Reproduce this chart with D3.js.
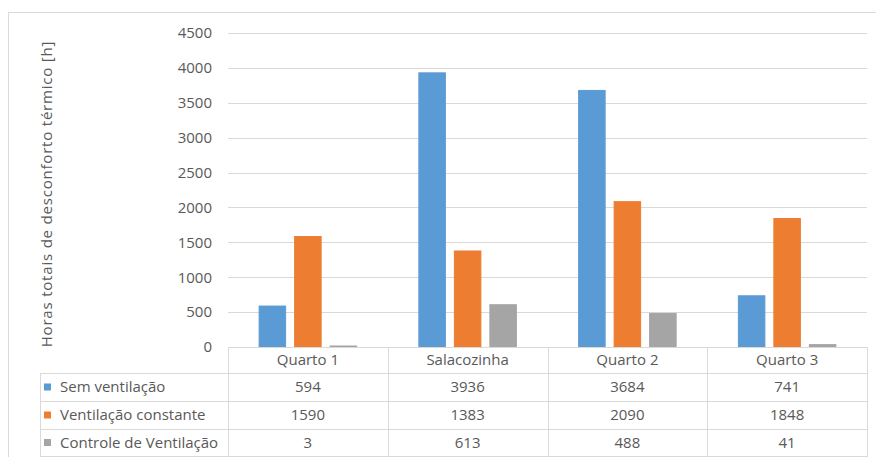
<!DOCTYPE html>
<html>
<head>
<meta charset="utf-8">
<script src="https://cdn.jsdelivr.net/npm/d3@7"></script>
<style>
  html, body { margin: 0; padding: 0; background: #ffffff; }
  svg { display: block; }
  text { font-family: "Open Sans", "Noto Sans", sans-serif; fill: #595959; }
</style>
</head>
<body>
<svg id="chart" width="876" height="457"></svg>
<script>
const categories = ["Quarto 1", "Salacozinha", "Quarto 2", "Quarto 3"];
const seriesNames = ["Sem ventilação", "Ventilação constante", "Controle de Ventilação"];
const semVentilacao = [594, 3936, 3684, 741];
const ventilacaoConstante = [1590, 1383, 2090, 1848];
const controleVentilacao = [3, 613, 488, 41];
const yTicks = [0, 500, 1000, 1500, 2000, 2500, 3000, 3500, 4000, 4500];
const colors = ["#5B9BD5", "#ED7D31", "#A5A5A5"];
const yTitle = "Horas totais de desconforto térmico [h]";

const seriesValues = [semVentilacao, ventilacaoConstante, controleVentilacao];

const svg = d3.select("#chart");
const W = 876, H = 457;
const plotLeft = 228, plotRight = 867, plotTop = 33, plotBottom = 347;
const legendLeft = 40;
const rowLines = [347, 373, 401, 429, 456];
const gridColor = "#d9d9d9";
const fs = 15;

// outer chart frame
svg.append("rect")
  .attr("x", 8.5).attr("y", 12.5)
  .attr("width", W + 10).attr("height", H + 10)
  .attr("fill", "none").attr("stroke", gridColor);

const x = d3.scaleBand().domain(categories).range([plotLeft, plotRight]).padding(0);
const xInner = d3.scaleBand().domain(seriesNames).range([0, x.bandwidth()])
  .paddingInner(0.225).paddingOuter(0.8625);
const y = d3.scaleLinear().domain([0, 4500]).range([plotBottom, plotTop]);

// gridlines
svg.append("g").selectAll("line").data(yTicks.filter(d => d > 0)).join("line")
  .attr("x1", plotLeft).attr("x2", plotRight)
  .attr("y1", d => Math.round(y(d)) + 0.5).attr("y2", d => Math.round(y(d)) + 0.5)
  .attr("stroke", gridColor).attr("stroke-width", 1);

// y axis tick labels via d3 axis
const yAxis = d3.axisLeft(y).tickValues(yTicks).tickSize(0).tickPadding(0).tickFormat(d3.format("d"));
const yg = svg.append("g").attr("transform", `translate(212,0)`).call(yAxis);
yg.select(".domain").remove();
yg.selectAll("text").attr("font-size", fs).attr("fill", "#595959")
  .style("font-family", '"Open Sans", sans-serif');

// bars
const groups = svg.append("g").selectAll("g").data(categories).join("g")
  .attr("transform", d => `translate(${x(d)},0)`);
groups.selectAll("rect").data((c, i) => seriesNames.map((s, j) => ({ s, j, v: seriesValues[j][i] })))
  .join("rect")
  .attr("x", d => xInner(d.s) + 0.5)
  .attr("width", xInner.bandwidth() - 1)
  .attr("y", d => Math.min(y(d.v) + 0.5, plotBottom - 1))
  .attr("height", d => Math.max(plotBottom - y(d.v) - 1, 0.5))
  .attr("fill", d => colors[d.j])
  .attr("stroke", d => colors[d.j])
  .attr("stroke-width", 1);

// table lines
const tg = svg.append("g").attr("stroke", gridColor).attr("stroke-width", 1).attr("fill", "none");
tg.append("line").attr("x1", plotLeft).attr("x2", plotRight).attr("y1", rowLines[0] + 0.5).attr("y2", rowLines[0] + 0.5);
for (let r = 1; r < rowLines.length; r++) {
  tg.append("line").attr("x1", legendLeft).attr("x2", plotRight)
    .attr("y1", rowLines[r] + 0.5).attr("y2", rowLines[r] + 0.5);
}
const vx = categories.map(c => x(c)).concat([plotRight]);
vx.forEach(vv => {
  tg.append("line").attr("x1", Math.round(vv) + 0.5).attr("x2", Math.round(vv) + 0.5)
    .attr("y1", rowLines[0]).attr("y2", H);
});
tg.append("line").attr("x1", legendLeft + 0.5).attr("x2", legendLeft + 0.5)
  .attr("y1", rowLines[1]).attr("y2", H);

// header text
svg.append("g").selectAll("text").data(categories).join("text")
  .attr("x", d => x(d) + x.bandwidth() / 2)
  .attr("y", (rowLines[0] + rowLines[1]) / 2)
  .attr("dy", "0.35em").attr("text-anchor", "middle").attr("font-size", fs)
  .text(d => d);

// rows
seriesNames.forEach((s, j) => {
  const cy = (rowLines[j + 1] + rowLines[j + 2]) / 2;
  svg.append("rect").attr("x", 44).attr("y", cy - 3.5).attr("width", 7).attr("height", 7).attr("fill", colors[j]);
  svg.append("text").attr("x", 60).attr("y", cy).attr("dy", "0.35em").attr("font-size", fs).text(s);
  svg.append("g").selectAll("text").data(seriesValues[j]).join("text")
    .attr("x", (d, i) => x(categories[i]) + x.bandwidth() / 2)
    .attr("y", cy).attr("dy", "0.35em").attr("text-anchor", "middle").attr("font-size", fs)
    .text(d => d);
});

// y title
svg.append("text")
  .attr("transform", `translate(47,${(40 + 348) / 2}) rotate(-90)`)
  .attr("text-anchor", "middle").attr("dy", "0.35em").attr("font-size", fs)
  .attr("letter-spacing", "0.8px")
  .text(yTitle);
</script>
</body>
</html>
